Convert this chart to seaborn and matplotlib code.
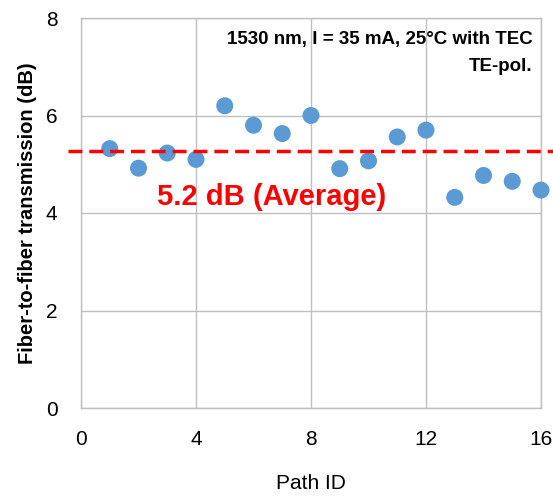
import matplotlib
matplotlib.use("Agg")
import matplotlib.pyplot as plt
import seaborn as sns
import pandas as pd

path_id = list(range(1, 17))
transmission = [5.32, 4.92, 5.23, 5.10, 6.20, 5.80, 5.63, 6.00,
                4.91, 5.07, 5.56, 5.70, 4.32, 4.77, 4.65, 4.47]
average_line = 5.27
x_ticks = [0, 4, 8, 12, 16]
y_ticks = [0, 2, 4, 6, 8]

sns.set_theme(style="whitegrid")
plt.rcParams['font.family'] = ['Liberation Sans', 'DejaVu Sans']

fig = plt.figure(figsize=(5.53, 4.96), dpi=100)
ax = fig.add_axes([81/553, 1-408/496, 460/553, 390/496])

df = pd.DataFrame({"Path ID": path_id, "T": transmission})
sns.scatterplot(data=df, x="Path ID", y="T", ax=ax, color="#5B9BD5",
                s=150, edgecolor="none", zorder=3, clip_on=False)

ax.plot([-0.45, 16.45], [average_line, average_line], color="#FF0000",
        lw=2.5, ls=(0, (4, 2)), clip_on=False, zorder=4)

ax.set_xlim(0, 16)
ax.set_ylim(0, 8)
ax.set_xticks(x_ticks)
ax.set_yticks(y_ticks)
ax.grid(True, color="#BFBFBF", lw=1)
for s in ax.spines.values():
    s.set_color("#BFBFBF")
    s.set_linewidth(1)
ax.tick_params(axis="x", labelsize=15, colors="black", length=0, pad=16)
ax.tick_params(axis="y", labelsize=15, colors="black", length=0, pad=17)
ax.set_xlabel("Path ID", fontsize=15, labelpad=18, color="black")
ax.set_ylabel("Fiber-to-fiber transmission (dB)", fontsize=14.5,
              fontweight="bold", labelpad=6, color="black")

ax.text(15.7, 7.55, "1530 nm, I = 35 mA, 25\u00b0C with TEC",
        ha="right", va="center", fontsize=13.5, fontweight="bold",
        color="black")
ax.text(15.7, 7.0, "TE-pol.", ha="right", va="center",
        fontsize=13.5, fontweight="bold", color="black")
ax.text(2.65, 4.32, "5.2 dB (Average)", ha="left", va="center",
        fontsize=21, fontweight="bold", color="#FF0000")

fig.savefig("out.png", dpi=100)
